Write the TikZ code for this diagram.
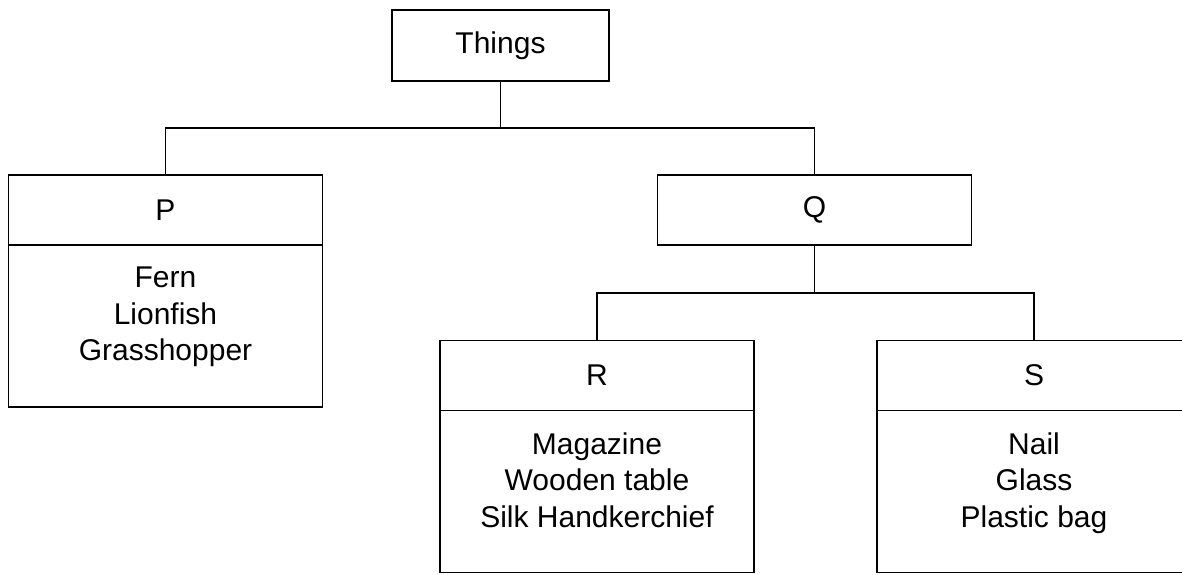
\documentclass[tikz,border=0pt]{standalone}
\usepackage{fontspec}
\setmainfont{Liberation Sans}
\usetikzlibrary{positioning,calc}

\begin{document}
\begin{tikzpicture}[
		x=1pt, y=-1pt,
		font=\fontsize{30}{36.5}\selectfont,
		every node/.style={draw, line width=1.5pt, inner sep=0pt, outer sep=0pt},
		head/.style={minimum width=314pt, minimum height=70pt},
		list/.style={minimum width=314pt, minimum height=162pt, below=0pt of #1},
		items/.style={label={[draw=none, align=center, anchor=north, yshift=-22pt]north:#1}},
		link/.style={line width=1.5pt}
	]
	\useasboundingbox (0,0) rectangle (1182,574);
	\node[head, minimum width=217pt, minimum height=71pt] (things) at (500.5,45.5) {Things};
	\node[head] (p) at (165.5,210) {P};
	\node[list=p, items={Fern\\Lionfish\\Grasshopper}] (plist) {};
	\node[head] (q) at (814.5,210) {Q};
	\node[head] (r) at (597,375.5) {R};
	\node[list=r, items={Magazine\\Wooden table\\Silk Handkerchief}] (rlist) {};
	\node[head] (s) at (1034,375.5) {S};
	\node[list=s, items={Nail\\Glass\\Plastic bag}] (slist) {};
	\draw[link] (things.south) |- ($(things.south)!.5!(p.north)$) -| (p.north);
	\draw[link] (things.south) |- ($(things.south)!.5!(q.north)$) -| (q.north);
	\draw[link] (q.south) |- ($(q.south)!.5!(r.north)$) -| (r.north);
	\draw[link] (q.south) |- ($(q.south)!.5!(s.north)$) -| (s.north);
\end{tikzpicture}
\end{document}
